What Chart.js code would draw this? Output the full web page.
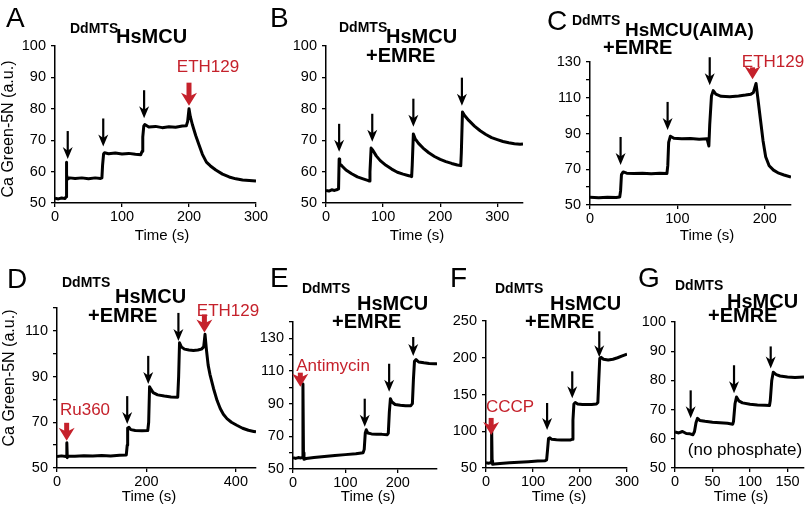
<!DOCTYPE html>
<html>
<head>
<meta charset="utf-8">
<script src="https://cdn.jsdelivr.net/npm/chart.js@4.4.1/dist/chart.umd.min.js"></script>
<style>
body { margin: 0; background: #fff; }
#wrap { position: relative; width: 807px; height: 510px; }
#wrap canvas { position: absolute; left: 0; top: 0; }
</style>
</head>
<body>
<div id="wrap"></div>
<script>
const FONT = "'Liberation Sans', Arial, sans-serif";
const RED = '#c5212b';

// traces: [time (s), Ca Green-5N (a.u.)]
const traceA = [[0,51.5],[5,51.3],[10,51.6],[15,51.4],[16.5,52],[17,63],[17.5,59],[18.5,57.6],[22,58],[30,57.8],
    [40,58],[50,57.7],[60,58],[68,57.8],[70,58],[71,62],[72.5,65.6],[74,66],[80,65.7],[90,65.9],
    [100,65.6],[110,65.8],[120,65.5],[128,65.4],[130,66.5],[131,71],[132.5,74.5],[134,75],[140,74.2],[150,74.4],
    [160,74],[170,74.3],[180,74.1],[190,74.5],[196,74.6],[198,76],[200,80],[202,77.5],[205,75],[210,71.5],
    [215,68.5],[220,65.5],[226,63],[232,61.8],[240,60.5],[250,59.2],[260,58.3],[270,57.7],[280,57.3],[290,57.2],[300,57]];
const traceB = [[0,54],[5,53.8],[10,54.2],[15,54],[20,54.3],[22,54.5],[23,64],[24,62.5],[28,61.8],[35,60.5],
    [45,59.3],[55,58.3],[65,57.7],[73,57.2],[76,57],[77,60],[79,67.5],[82,66.8],[88,65],[95,63.5],
    [105,62],[115,60.8],[125,59.8],[135,59.2],[145,58.7],[150,58.4],[151,62],[153,72],[156,70.5],[162,69],
    [170,67.5],[180,66],[190,64.8],[200,63.9],[210,63.2],[220,62.6],[230,62.1],[236,61.9],[237,66],[239,79],
    [242,78],[250,76.3],[260,74.5],[270,73],[280,71.8],[290,70.8],[300,70.2],[310,69.6],[320,69.2],[330,68.9],[340,68.7],[345,68.8]];
const traceC = [[0,54.3],[10,54],[20,54.4],[30,54.2],[34,54.5],[35,58],[36,67],[38,68.5],[42,67.8],[50,67.6],
    [60,67.8],[70,67.5],[80,67.7],[88,67.6],[89,72],[90,85],[92,88.5],[96,87.3],[105,87],[115,87.2],
    [125,86.8],[134,87],[136,83],[137,95],[139,111],[141,114],[144,112],[150,110.8],[160,110.5],[170,111],
    [178,111.5],[184,112],[187,113],[190,118],[192,110],[195,98],[198,86],[201,77],[205,72],[210,69.5],
    [216,67.8],[222,66.8],[230,65.6]];
const traceD = [[0,55],[10,55.3],[20,55],[21,55.2],[22,61],[23,54.5],[25,55.3],[40,55.1],[60,55.4],[80,55.2],
    [100,55.5],[120,55.3],[140,55.6],[155,55.7],[157,60],[158,67.5],[161,67.8],[165,66.8],[175,66.4],[190,66.3],
    [203,66.4],[205,70],[207,85.5],[210,84.5],[215,83],[225,82],[240,81.5],[255,81.1],[270,81],[272,90],
    [274,104.8],[278,103],[285,102],[295,101.6],[305,101.4],[315,101.6],[323,102],[328,103],[331,108.5],[334,102],
    [338,95],[342,91],[350,84.8],[358,79.5],[365,76],[372,73.5],[380,71.6],[390,70],[402,68.7],[415,67.4],
    [428,66.5],[440,66],[445,65.8]];
const traceE = [[0,57],[5,56.5],[10,57],[15,56.8],[18,57],[19,102],[20,60],[21,56],[25,56.4],[40,57],
    [60,57.6],[80,58.2],[100,58.8],[120,59.4],[134,60],[136,62],[138,72],[140,74],[143,72],[150,71.5],
    [160,71.3],[170,71.2],[180,71],[182,72],[184,85],[186,93],[189,91],[195,89.5],[205,89],[215,88.7],
    [225,88.8],[228,90],[230,105],[232,116],[235,117],[240,115.5],[250,115],[260,114.6],[270,114.4],[275,114.5]];
const traceF = [[0,57],[5,56.5],[10,57],[11,58],[12,105],[13,60],[14,55],[18,55.5],[30,56],[50,57],
    [70,57.8],[90,58.6],[110,59.4],[126,60],[129,61],[131,75],[133,90],[136,91],[140,89],[150,88.5],
    [160,88.2],[170,88],[180,88.2],[183,89],[185,115],[187,137],[190,139],[195,137],[205,136.5],[215,136.3],
    [225,136.5],[235,137],[238,139],[240,170],[242,199],[245,200.5],[250,198],[260,197],[270,198],[280,200],
    [290,202.5],[300,205]];
const traceG = [[0,62.3],[5,62],[10,62.5],[15,61.8],[20,61.7],[24,61.4],[26,62.5],[28,65.5],[30,67],[33,66.3],
    [40,66],[50,65.7],[60,65.5],[70,65.3],[77,65],[78,66],[80,72],[82,74.3],[85,73],[90,72.3],
    [100,71.8],[110,71.6],[120,71.5],[126,71.4],[127,73],[129,80],[131,82.8],[135,82],[140,81.5],[150,81.2],
    [160,81],[172,81.2]];

// additions: [time, value at arrow tip, optional length px]
const arrowsA = [[19,64],[72,68],[133,77]];
const arrowsB = [[23,66.3],[81,69.5],[153,74.3],[238,81]];
const arrowsC = [[35,72.4],[88.8,92],[137,117]];
const arrowsD = [[157,69.2],[204,86.8],[271.5,105.6]];
const arrowsE = [[137,75.9],[183.6,97.3],[229.6,119.2,19]];
const arrowsF = [[130,101.7,27],[183.5,144.8,27],[241,200.6,26]];
const arrowsG = [[20.9,67],[78.7,75.6],[127.6,84.1,22]];
const redA = [[200,81,23]];
const redC = [[186,120.3,12]];
const redD = [[21.6,61.9,18],[329.6,109.3,18]];
const redE = [[14,100.4,14]];
const redF = [[11,95,17]];

// tick marks and the ones that carry a label
const ticks10 = [50,60,70,80,90,100];
const ticksC = [50,60,70,80,90,100,110,120,130];
const ticksD = [50,60,70,80,90,100,110,120];
const ticksE = [50,60,70,80,90,100,110,120,130,140];
const labels20 = [50,70,90,110,130];

const panels = [
    { letter: ['A',6,27], box: [55,256,46,203], trace: traceA, xMax: 300, yMin: 50, yMax: 100,
      xTicks: [0,100,200,300], yTicks: ticks10, yLabels: ticks10, arrows: arrowsA, red: redA,
      title: [['DdMTS',70,33,14],['HsMCU',116,43,20]],
      labels: [['ETH129',208,72,RED]], timeX: 162, timeY: 240, yTitle: [9,129] },
    { letter: ['B',270,27], box: [326,523,46,203], trace: traceB, xMax: 345, yMin: 50, yMax: 100,
      xTicks: [0,100,200,300], yTicks: ticks10, yLabels: ticks10, arrows: arrowsB, red: [],
      title: [['DdMTS',339,32,14],['HsMCU',386,43,20],['+EMRE',366,62,20]],
      labels: [], timeX: 417, timeY: 240 },
    { letter: ['C',547,30], box: [590,791,62,205], trace: traceC, xMax: 230, yMin: 50, yMax: 130,
      xTicks: [0,100,200], yTicks: ticksC, yLabels: labels20, arrows: arrowsC, red: redC,
      title: [['DdMTS',572,25,14],['HsMCU(AIMA)',625,36,19],['+EMRE',603,54,20]],
      labels: [['ETH129',773,67,RED]], timeX: 707, timeY: 240 },
    { letter: ['D',7,288], box: [57,256,308,468], trace: traceD, xMax: 445, yMin: 50, yMax: 120,
      xTicks: [0,200,400], yTicks: ticksD, yLabels: labels20, arrows: arrowsD, red: redD,
      title: [['DdMTS',62,287,14],['HsMCU',115,303,20],['+EMRE',88,322,20]],
      labels: [['Ru360',85,415,RED],['ETH129',228,316,RED]], timeX: 149, timeY: 501, yTitle: [10,378] },
    { letter: ['E',270,287], box: [293,437,322,469], trace: traceE, xMax: 275, yMin: 50, yMax: 140,
      xTicks: [0,100,200], yTicks: ticksE, yLabels: labels20, arrows: arrowsE, red: redE,
      title: [['DdMTS',302,293,14],['HsMCU',357,310,20],['+EMRE',332,328,20]],
      labels: [['Antimycin',333,371,RED]], timeX: 368, timeY: 501 },
    { letter: ['F',450,287], box: [486,627,321,468], trace: traceF, xMax: 300, yMin: 50, yMax: 250,
      xTicks: [0,100,200,300], yTicks: [50,100,150,200,250], yLabels: [50,100,150,200,250], arrows: arrowsF, red: redF,
      title: [['DdMTS',495,293,14],['HsMCU',550,310,20],['+EMRE',525,328,20]],
      labels: [['CCCP',510,412,RED]], timeX: 559, timeY: 501 },
    { letter: ['G',638,287], box: [675,804,322,468], trace: traceG, xMax: 172, yMin: 50, yMax: 100,
      xTicks: [0,50,100,150], yTicks: ticks10, yLabels: ticks10, arrows: arrowsG, red: [],
      title: [['DdMTS',675,290,14],['HsMCU',727,308,20],['+EMRE',708,322,20]],
      labels: [['(no phosphate)',745,455,'#000']], timeX: 741, timeY: 501 }
];

function drawArrow(ctx, x, tipY, len, color, shaftW, headW, headL) {
    ctx.fillStyle = color;
    ctx.strokeStyle = color;
    ctx.lineWidth = shaftW;
    ctx.beginPath();
    ctx.moveTo(x, tipY - len);
    ctx.lineTo(x, tipY - headL * 0.6);
    ctx.stroke();
    ctx.beginPath();
    ctx.moveTo(x, tipY);
    ctx.lineTo(x - headW / 2, tipY - headL);
    ctx.lineTo(x, tipY - headL * 0.7);
    ctx.lineTo(x + headW / 2, tipY - headL);
    ctx.closePath();
    ctx.fill();
}

function makeDecor(p) {
    return {
        id: 'decor',
        afterDraw(chart) {
            const ctx = chart.ctx;
            const xs = chart.scales.x, ys = chart.scales.y;
            ctx.save();
            p.arrows.forEach(a => {
                drawArrow(ctx, xs.getPixelForValue(a[0]), ys.getPixelForValue(a[1]), a[2] || 28, '#000', 2.2, 10, 12);
            });
            p.red.forEach(a => {
                drawArrow(ctx, xs.getPixelForValue(a[0]), ys.getPixelForValue(a[1]), a[2] || 20, RED, 5, 16, 13);
            });
            ctx.textBaseline = 'alphabetic';
            ctx.fillStyle = '#000';
            ctx.textAlign = 'left';
            ctx.font = '28px ' + FONT;
            ctx.fillText(p.letter[0], p.letter[1], p.letter[2]);
            p.title.forEach(t => {
                ctx.font = 'bold ' + t[3] + 'px ' + FONT;
                ctx.fillText(t[0], t[1], t[2]);
            });
            ctx.textAlign = 'center';
            p.labels.forEach(l => {
                ctx.fillStyle = l[3];
                ctx.font = '17px ' + FONT;
                ctx.fillText(l[0], l[1], l[2]);
            });
            ctx.fillStyle = '#000';
            ctx.font = '15px ' + FONT;
            ctx.fillText('Time (s)', p.timeX, p.timeY);
            if (p.yTitle) {
                ctx.translate(p.yTitle[0], p.yTitle[1]);
                ctx.rotate(-Math.PI / 2);
                ctx.font = '16px ' + FONT;
                ctx.textBaseline = 'middle';
                ctx.fillText('Ca Green-5N (a.u.)', 0, 0);
            }
            ctx.restore();
        }
    };
}

function axisOpts(min, max, tickList, labelList, isX) {
    return {
        type: 'linear',
        min: min,
        max: max,
        afterBuildTicks: function (ax) {
            ax.ticks = tickList.map(v => ({ value: v }));
        },
        afterFit: function (ax) {
            if (isX) { ax.height = 40; } else { ax.width = 40; }
        },
        grid: { display: true, drawOnChartArea: false, drawTicks: true, tickLength: 4, color: '#000', lineWidth: 1.3 },
        border: { display: true, color: '#000', width: 1.5 },
        ticks: {
            color: '#000', font: { family: FONT, size: 14.5 }, padding: isX ? 1 : 5, maxRotation: 0, autoSkip: false,
            callback: v => (labelList.includes(v) ? String(v) : '')
        }
    };
}

const wrap = document.getElementById('wrap');
panels.forEach(p => {
    const c = document.createElement('canvas');
    c.width = 807;
    c.height = 510;
    wrap.appendChild(c);
    const b = p.box;
    new Chart(c.getContext('2d'), {
        type: 'line',
        data: {
            datasets: [{
                data: p.trace.map(d => ({ x: d[0], y: d[1] })),
                borderColor: '#000',
                borderWidth: 3,
                pointRadius: 0,
                tension: 0,
                borderJoinStyle: 'round',
                fill: false
            }]
        },
        options: {
            responsive: false,
            animation: false,
            events: [],
            layout: { padding: { left: b[0] - 40, right: 807 - b[1], top: b[2], bottom: 470 - b[3] } },
            scales: {
                x: axisOpts(0, p.xMax, p.xTicks, p.xTicks, true),
                y: axisOpts(p.yMin, p.yMax, p.yTicks, p.yLabels, false)
            },
            plugins: { legend: { display: false }, tooltip: { enabled: false }, title: { display: false } }
        },
        plugins: [makeDecor(p)]
    });
});
</script>
</body>
</html>
